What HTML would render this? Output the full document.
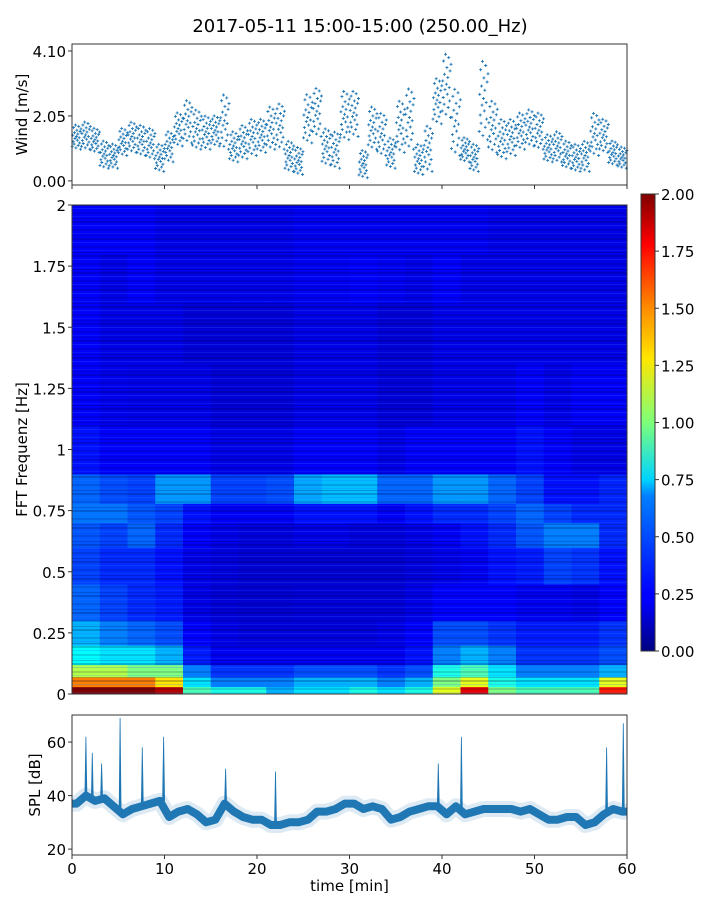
<!DOCTYPE html>
<html><head><meta charset="utf-8">
<style>
html,body{margin:0;padding:0;background:#fff;}
svg{display:block;font-family:"DejaVu Sans","Liberation Sans",sans-serif;}
</style></head>
<body>
<svg id="chart" width="720" height="900" viewBox="0 0 720 900" xmlns="http://www.w3.org/2000/svg">
<defs>
<linearGradient id="jetgrad" x1="0" y1="1" x2="0" y2="0">
<stop offset="0" stop-color="#00007f"/><stop offset="0.11" stop-color="#0000ff"/>
<stop offset="0.125" stop-color="#0000ff"/><stop offset="0.34" stop-color="#0080ff"/>
<stop offset="0.375" stop-color="#00d4ff"/><stop offset="0.5" stop-color="#7dff7a"/>
<stop offset="0.64" stop-color="#ffe600"/><stop offset="0.75" stop-color="#ff8c00"/>
<stop offset="0.89" stop-color="#ff0000"/><stop offset="1" stop-color="#7f0000"/>
</linearGradient>
<pattern id="streaks" width="555" height="17" patternUnits="userSpaceOnUse">
<rect x="0" y="0" width="555" height="2" fill="#000040" opacity="0.22"/>
<rect x="0" y="4" width="555" height="1" fill="#3070ff" opacity="0.25"/>
<rect x="0" y="8" width="555" height="2" fill="#000040" opacity="0.15"/>
<rect x="0" y="12" width="555" height="1" fill="#3070ff" opacity="0.18"/>
<rect x="0" y="14" width="555" height="1" fill="#000040" opacity="0.2"/>
</pattern>
</defs>
<text x="360" y="32" text-anchor="middle" font-size="18">2017-05-11 15:00-15:00 (250.00_Hz)</text>
<g id="wind"></g>
<g id="spec"></g>
<g id="cbar"></g>
<g id="spl"></g>
</svg>
<script>
// ---------- data ----------
const windLo = [1.0,1.0,0.9,0.4,0.4,0.8,0.9,0.8,0.7,0.3,0.6,1.1,1.2,1.0,1.0,1.1,1.0,0.6,0.7,0.8,0.9,1.0,1.0,0.3,0.2,1.2,1.4,0.5,0.4,1.3,1.4,0.1,1.0,0.8,0.4,0.9,1.0,0.2,0.3,1.8,2.0,0.8,0.6,0.3,1.3,0.9,0.7,0.8,1.0,1.1,1.0,0.6,0.6,0.4,0.3,0.3,0.8,0.9,0.5,0.4];
const windHi = [1.8,1.9,1.7,1.3,1.2,1.7,1.9,1.8,1.7,1.2,1.6,2.2,2.6,2.3,2.1,2.1,2.8,1.6,1.8,2.0,2.0,2.4,2.5,1.3,1.1,2.8,3.0,1.7,1.6,2.9,2.9,1.0,2.4,2.2,1.4,2.6,3.0,1.2,1.8,3.3,4.1,3.0,1.4,1.2,3.9,2.6,2.0,2.0,2.2,2.3,2.2,1.5,1.6,1.3,1.2,1.3,2.2,2.0,1.3,1.1];
const windTicks = [0.00, 2.05, 4.10];
const timeTicks = [0,10,20,30,40,50,60];

const freqEdges = [0,0.03,0.07,0.12,0.2,0.3,0.45,0.6,0.7,0.78,0.9,1.1,1.35,1.6,1.8,2.0];
const specRow0 = [2,2,2,1.9,0.9,0.8,0.8,0.6,0.7,0.7,0.8,0.7,0.8,1.2,1.8,1.0,0.9,0.9,0.9,1.7];
const specRow1 = [1.5,1.5,1.5,1.3,0.7,0.5,0.5,0.5,0.6,0.6,0.6,0.5,0.6,1.0,1.2,0.8,0.7,0.7,0.7,1.2];
const specRow2 = [1.1,1.1,1.0,1.0,0.5,0.35,0.35,0.35,0.4,0.4,0.4,0.35,0.4,0.8,0.9,0.7,0.5,0.5,0.5,0.6];
const specRow3 = [0.75,0.7,0.7,0.6,0.3,0.22,0.22,0.22,0.22,0.22,0.22,0.22,0.28,0.5,0.6,0.5,0.35,0.35,0.35,0.4];
const specRow4 = [0.6,0.5,0.45,0.4,0.25,0.2,0.18,0.18,0.18,0.18,0.18,0.2,0.25,0.4,0.4,0.35,0.3,0.3,0.3,0.35];
const specRow5 = [0.45,0.38,0.33,0.3,0.2,0.17,0.16,0.16,0.17,0.17,0.17,0.17,0.2,0.25,0.25,0.25,0.22,0.22,0.2,0.25];
const specRow6 = [0.38,0.33,0.33,0.28,0.2,0.18,0.16,0.16,0.16,0.16,0.16,0.16,0.18,0.2,0.22,0.28,0.3,0.38,0.35,0.28];
const specRow7 = [0.42,0.38,0.45,0.33,0.24,0.2,0.18,0.18,0.2,0.2,0.18,0.18,0.2,0.23,0.28,0.33,0.42,0.5,0.5,0.33];
const specRow8 = [0.48,0.48,0.42,0.38,0.28,0.23,0.23,0.23,0.28,0.28,0.28,0.23,0.28,0.33,0.33,0.38,0.45,0.38,0.33,0.33];
const specRow9 = [0.45,0.4,0.38,0.55,0.55,0.38,0.38,0.4,0.58,0.62,0.62,0.45,0.45,0.55,0.55,0.45,0.38,0.28,0.28,0.32];
const specRow10 = [0.28,0.24,0.24,0.24,0.24,0.2,0.2,0.2,0.24,0.24,0.24,0.2,0.24,0.24,0.24,0.24,0.28,0.24,0.2,0.2];
const specRow11 = [0.24,0.21,0.2,0.2,0.2,0.17,0.17,0.17,0.2,0.2,0.2,0.17,0.17,0.2,0.2,0.2,0.24,0.2,0.24,0.24];
const specRow12 = [0.24,0.2,0.2,0.2,0.17,0.17,0.17,0.17,0.2,0.2,0.2,0.17,0.17,0.2,0.2,0.2,0.2,0.2,0.2,0.2];
const specRow13 = [0.24,0.2,0.24,0.2,0.2,0.2,0.2,0.2,0.22,0.22,0.24,0.22,0.2,0.24,0.2,0.2,0.2,0.2,0.2,0.2];
const specRow14 = [0.24,0.24,0.24,0.2,0.2,0.2,0.2,0.2,0.22,0.22,0.22,0.22,0.22,0.22,0.22,0.2,0.2,0.2,0.2,0.2];
const specTickVals = [0,0.25,0.5,0.75,1,1.25,1.5,1.75,2];
const specTickLabels = ["0","0.25","0.5","0.75","1","1.25","1.5","1.75","2"];
const cbarTicks = [0,0.25,0.5,0.75,1,1.25,1.5,1.75,2];

const splCenter = [37,40,38,39,36,33,35,36,37,38,32,34,35,33,30,31,37,34,32,31,31,29,29,30,30,31,34,34,35,37,37,35,36,35,31,32,34,35,36,36,33,36,33,34,35,35,35,35,34,35,33,31,31,32,32,29,30,33,35,34];
const spikeTimes = [1.5,2.2,3.2,5.2,7.6,9.9,16.6,22.0,39.6,42.1,57.8,59.6];
const spikePeaks = [62,56,52,69,58,62,50,49,52,62,58,67];
const splTicks = [20,40,60];

// ---------- helpers ----------
const NS = "http://www.w3.org/2000/svg";
function mk(parent, tag, attrs, text){
  const e = document.createElementNS(NS, tag);
  for (const k in attrs) e.setAttribute(k, attrs[k]);
  if (text !== undefined) e.textContent = text;
  parent.appendChild(e); return e;
}
const X0 = 72, X1 = 627;
const xT = t => X0 + (t/60)*(X1-X0);
function jet(v){
  let x = Math.max(0, Math.min(1, v/2));
  const r = Math.max(0, Math.min(1, 1.5 - Math.abs(4*x-3)));
  const g = Math.max(0, Math.min(1, 1.5 - Math.abs(4*x-2)));
  const b = Math.max(0, Math.min(1, 1.5 - Math.abs(4*x-1)));
  return `rgb(${Math.round(r*255)},${Math.round(g*255)},${Math.round(b*255)})`;
}

// ---------- wind ----------
(function(){
  const g = document.getElementById('wind');
  const T = 44, B = 185, vmin = -0.13, vmax = 4.32;
  const yW = v => B - (v - vmin)/(vmax - vmin)*(B - T);
  const pat = [0.1,0.55,0.3,0.85,0.2,0.65,0.42,0.95,0.05,0.5,0.75,0.35,0.6,0.15,0.9,0.45,0.25,0.7,0.0,0.8];
  let d = "";
  for (let m = 0; m < windLo.length; m++){
    const lo = windLo[m], hi = windHi[m];
    const n = 20;
    for (let k = 0; k < n; k++){
      const v = lo + (hi - lo)*pat[k];
      const px = xT(m + (k+0.5)/n), py = yW(v);
      d += `M${(px-1.5).toFixed(1)} ${py.toFixed(1)}h3M${px.toFixed(1)} ${(py-1.5).toFixed(1)}v3`;
    }
  }
  const pts = mk(g, 'path', {d: d, stroke: '#1f77b4', 'stroke-width': 0.9, fill: 'none'});
  
  
  const fr = mk(g, 'rect', {x: X0, y: T, width: X1-X0, height: B-T, fill: 'none', stroke: '#333', 'stroke-width': 1});
  
  
  windTicks.forEach(v => {
    mk(g, 'line', {x1: X0-4, x2: X0, y1: yW(v), y2: yW(v), stroke: '#333'});
    const t = mk(g, 'text', {x: X0-6, y: yW(v)+6, 'text-anchor': 'end', 'font-size': 15}, v.toFixed(2));
    
    
  });
  timeTicks.forEach(t => mk(g, 'line', {x1: xT(t), x2: xT(t), y1: B, y2: B+4, stroke: '#333'}));
  const yl = mk(g, 'text', {x: 0, y: 0, transform: `translate(27,${(T+B)/2}) rotate(-90)`, 'text-anchor': 'middle', 'font-size': 15}, 'Wind [m/s]');
  
  
})();

// ---------- spectrogram ----------
(function(){
  const g = document.getElementById('spec');
  const T = 205, B = 694;
  const yF = f => B - (f/2)*(B - T);
  const rows = [specRow0,specRow1,specRow2,specRow3,specRow4,specRow5,specRow6,specRow7,specRow8,specRow9,specRow10,specRow11,specRow12,specRow13,specRow14];
  rows.forEach((row, ri) => {
    const nC = row.length, dt = 60/nC;
    row.forEach((v, ci) => {
      const y0 = yF(freqEdges[ri+1]), y1 = yF(freqEdges[ri]);
      const r = mk(g, 'rect', {x: xT(ci*dt).toFixed(2), y: y0.toFixed(2), width: (xT(dt)-X0+0.5).toFixed(2), height: (y1-y0+0.5).toFixed(2), fill: jet(v)});
      
      
    });
  });
  mk(g, 'rect', {x: X0, y: T, width: X1-X0, height: B-T, fill: 'url(#streaks)'});
  const fr = mk(g, 'rect', {x: X0, y: T, width: X1-X0, height: B-T, fill: 'none', stroke: '#333', 'stroke-width': 1});
  
  
  specTickVals.forEach((v, i) => {
    mk(g, 'line', {x1: X0-4, x2: X0, y1: yF(v), y2: yF(v), stroke: '#333'});
    const t = mk(g, 'text', {x: X0-6, y: yF(v)+6, 'text-anchor': 'end', 'font-size': 15}, specTickLabels[i]);
    
    
  });
  const yl = mk(g, 'text', {x: 0, y: 0, transform: `translate(27,${(T+B)/2}) rotate(-90)`, 'text-anchor': 'middle', 'font-size': 15}, 'FFT Frequenz [Hz]');
  
  
})();

// ---------- colorbar ----------
(function(){
  const g = document.getElementById('cbar');
  const L = 641, W = 14, T = 194, B = 651;
  const yC = v => B - (v/2)*(B - T);
  const r = mk(g, 'rect', {x: L, y: T, width: W, height: B-T, fill: 'url(#jetgrad)', stroke: '#333', 'stroke-width': 1});
  
  
  cbarTicks.forEach(v => {
    mk(g, 'line', {x1: L+W, x2: L+W+4, y1: yC(v), y2: yC(v), stroke: '#333'});
    const t = mk(g, 'text', {x: L+W+6, y: yC(v)+6, 'font-size': 15}, v.toFixed(2));
    
    
  });
})();

// ---------- SPL ----------
(function(){
  const g = document.getElementById('spl');
  const T = 715, B = 855, vmin = 17.8, vmax = 70.1;
  const yS = v => B - (v - vmin)/(vmax - vmin)*(B - T);
  const pts = splCenter.map((v, i) => [xT(i + 0.5), yS(v)]);
  pts.unshift([X0, yS(splCenter[0])]);
  pts.push([X1, yS(splCenter[splCenter.length-1])]);
  const ptsStr = pts.map(p => p[0].toFixed(1)+','+p[1].toFixed(1)).join(' ');
  const halo = mk(g, 'polyline', {points: ptsStr, fill: 'none', stroke: '#bcd6ea', 'stroke-width': 16, 'stroke-linejoin': 'round', opacity: 0.5});
  
  
  const line = mk(g, 'polyline', {points: ptsStr, fill: 'none', stroke: '#1f77b4', 'stroke-width': 8, 'stroke-linejoin': 'round'});
  
  
  spikeTimes.forEach((t, i) => {
    const idx = Math.min(splCenter.length-1, Math.floor(t));
    const s = mk(g, 'path', {d: `M${(xT(t)-1).toFixed(1)} ${yS(splCenter[idx]).toFixed(1)}L${xT(t).toFixed(1)} ${yS(spikePeaks[i]).toFixed(1)}L${(xT(t)+1).toFixed(1)} ${yS(splCenter[idx]).toFixed(1)}`, fill: '#1f77b4', stroke: '#1f77b4', 'stroke-width': 0.8});
    
    
  });
  const fr = mk(g, 'rect', {x: X0, y: T, width: X1-X0, height: B-T, fill: 'none', stroke: '#333', 'stroke-width': 1});
  
  
  splTicks.forEach(v => {
    mk(g, 'line', {x1: X0-4, x2: X0, y1: yS(v), y2: yS(v), stroke: '#333'});
    const t = mk(g, 'text', {x: X0-6, y: yS(v)+6, 'text-anchor': 'end', 'font-size': 15}, String(v));
    
    
  });
  timeTicks.forEach(t => {
    mk(g, 'line', {x1: xT(t), x2: xT(t), y1: B, y2: B+4, stroke: '#333'});
    const l = mk(g, 'text', {x: xT(t), y: B+19, 'text-anchor': 'middle', 'font-size': 15}, String(t));
    
    
  });
  const xl = mk(g, 'text', {x: (X0+X1)/2, y: 891, 'text-anchor': 'middle', 'font-size': 15}, 'time [min]');
  
  
  const yl = mk(g, 'text', {x: 0, y: 0, transform: `translate(40,${(T+B)/2}) rotate(-90)`, 'text-anchor': 'middle', 'font-size': 15}, 'SPL [dB]');
  
  
})();
</script>
</body></html>
